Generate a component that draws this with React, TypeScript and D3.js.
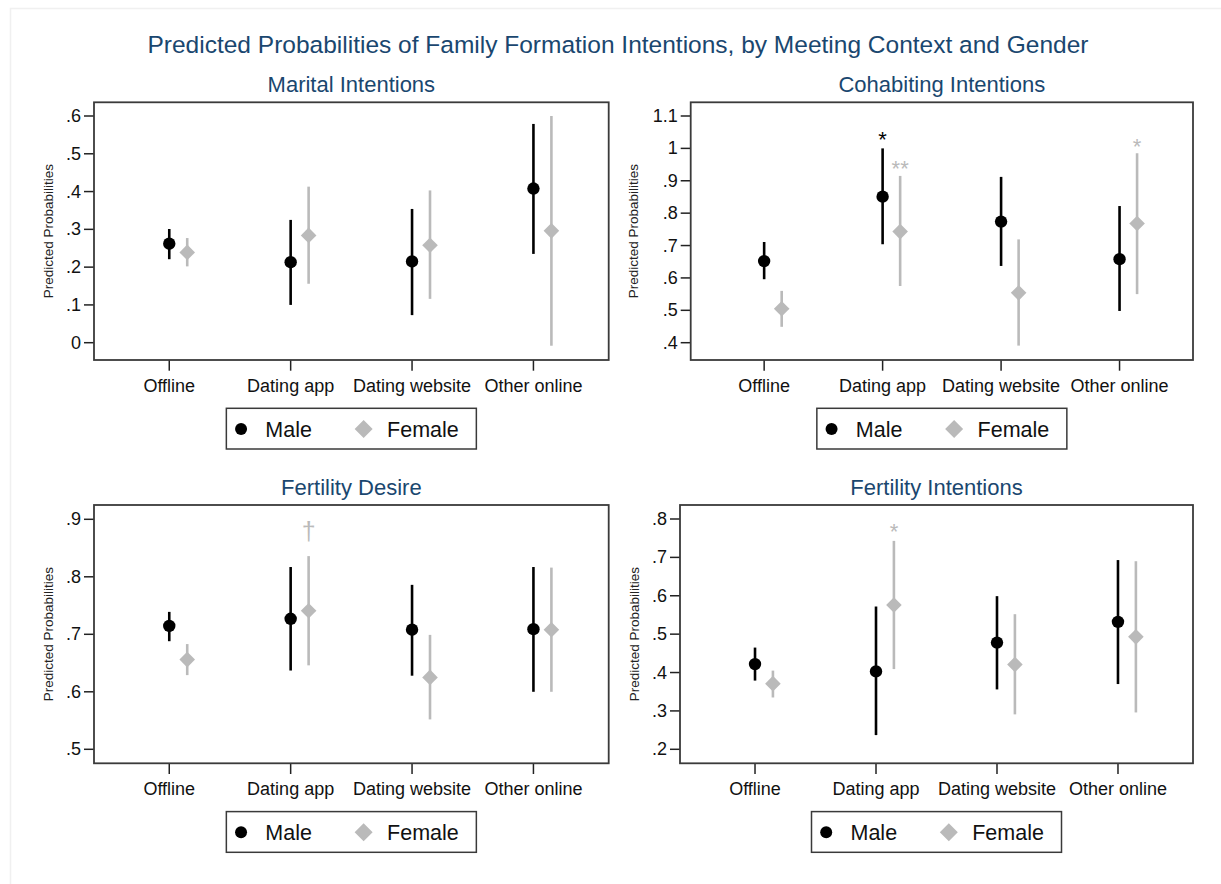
import * as d3 from 'd3'

const categories = ['Offline', 'Dating app', 'Dating website', 'Other online']
const groups = ['Male', 'Female']
const mainTitle = 'Predicted Probabilities of Family Formation Intentions, by Meeting Context and Gender'
const yTitle = 'Predicted Probabilities'

// Marital intentions
const maritalMale = [0.262, 0.213, 0.215, 0.408]
const maritalMaleCI = [[0.221, 0.301], [0.100, 0.325], [0.073, 0.354], [0.235, 0.579]]
const maritalFemale = [0.239, 0.284, 0.258, 0.296]
const maritalFemaleCI = [[0.202, 0.277], [0.156, 0.413], [0.116, 0.403], [-0.008, 0.600]]
const maritalTicks = [0, 0.1, 0.2, 0.3, 0.4, 0.5, 0.6]

// Cohabiting intentions
const cohabMale = [0.652, 0.851, 0.774, 0.658]
const cohabMaleCI = [[0.596, 0.711], [0.704, 1.000], [0.637, 0.912], [0.498, 0.822]]
const cohabFemale = [0.505, 0.743, 0.554, 0.768]
const cohabFemaleCI = [[0.449, 0.560], [0.575, 0.915], [0.391, 0.719], [0.550, 0.985]]
const cohabTicks = [0.4, 0.5, 0.6, 0.7, 0.8, 0.9, 1.0, 1.1]

// Fertility desire
const desireMale = [0.7145, 0.727, 0.708, 0.709]
const desireMaleCI = [[0.688, 0.739], [0.637, 0.817], [0.628, 0.786], [0.600, 0.817]]
const desireFemale = [0.656, 0.741, 0.625, 0.708]
const desireFemaleCI = [[0.629, 0.683], [0.646, 0.836], [0.552, 0.699], [0.600, 0.816]]
const desireTicks = [0.5, 0.6, 0.7, 0.8, 0.9]

// Fertility intentions
const fertMale = [0.422, 0.403, 0.478, 0.532]
const fertMaleCI = [[0.379, 0.465], [0.237, 0.572], [0.356, 0.599], [0.370, 0.693]]
const fertFemale = [0.371, 0.576, 0.421, 0.493]
const fertFemaleCI = [[0.335, 0.405], [0.409, 0.743], [0.291, 0.552], [0.296, 0.690]]
const fertTicks = [0.2, 0.3, 0.4, 0.5, 0.6, 0.7, 0.8]

// significance marks: [group, category index, label, value where drawn]
const cohabMarks: [number, number, string, number][] = [[0, 1, '*', 1.045], [1, 1, '**', 0.954], [1, 3, '*', 1.022]]
const desireMarks: [number, number, string, number][] = [[1, 1, '†', 0.876]]
const fertMarks: [number, number, string, number][] = [[1, 1, '*', 0.78]]

const FONT = '"Liberation Sans", Arial, Helvetica, sans-serif'
const TITLE_COLOR = '#1a476f'
const FEMALE_COLOR = '#bababa'
const FRAME = '#3a3a3a'

const panels = [
  { title: 'Marital Intentions', male: maritalMale, maleCI: maritalMaleCI, female: maritalFemale, femaleCI: maritalFemaleCI, ticks: maritalTicks, marks: [] as [number, number, string, number][],
    left: 94, right: 608.7, top: 102.3, bottom: 360, padT: 13.7, padB: 17.3, yTitleX: 48.3 },
  { title: 'Cohabiting Intentions', male: cohabMale, maleCI: cohabMaleCI, female: cohabFemale, femaleCI: cohabFemaleCI, ticks: cohabTicks, marks: cohabMarks,
    left: 690.7, right: 1193, top: 102.3, bottom: 360, padT: 13.7, padB: 17.3, yTitleX: 633.3 },
  { title: 'Fertility Desire', male: desireMale, maleCI: desireMaleCI, female: desireFemale, femaleCI: desireFemaleCI, ticks: desireTicks, marks: desireMarks,
    left: 94, right: 608.7, top: 505, bottom: 763.3, padT: 14.3, padB: 14, yTitleX: 48.7 },
  { title: 'Fertility Intentions', male: fertMale, maleCI: fertMaleCI, female: fertFemale, femaleCI: fertFemaleCI, ticks: fertTicks, marks: fertMarks,
    left: 680, right: 1193, top: 505, bottom: 763.3, padT: 14, padB: 14, yTitleX: 634.5 },
]

const fmt = (v: number) => {
  const s = d3.format('.1f')(v)
  if (s === '0.0') return '0'
  if (s.endsWith('.0')) return s.slice(0, -2)
  return s.startsWith('0') ? s.slice(1) : s
}

const Panel = ({ p }: { p: typeof panels[number] }) => {
  const x = d3.scaleLinear().domain([0.38, 4.62]).range([p.left, p.right])
  const y = d3.scaleLinear()
    .domain([p.ticks[0], p.ticks[p.ticks.length - 1]])
    .range([p.bottom - p.padB, p.top + p.padT])
  const off = 0.148
  const cx = (p.left + p.right) / 2
  const diamond = (r: number) => `M0,${-r}L${r},0L0,${r}L${-r},0Z`
  const legLeft = cx - 125

  return (
    <g>
      <text x={cx} y={p.top - 10} textAnchor="middle" fontSize={22} fill={TITLE_COLOR}>{p.title}</text>
      <text transform={`translate(${p.yTitleX},${(p.top + p.bottom) / 2}) rotate(-90)`} textAnchor="middle"
        dominantBaseline="central" fontSize={13.5} fill="#222">{yTitle}</text>
      {p.ticks.map(t => (
        <g key={t}>
          <line x1={p.left - 10} x2={p.left} y1={y(t)} y2={y(t)} stroke="#222" strokeWidth={1.5} />
          <text x={p.left - 13} y={y(t)} textAnchor="end" dominantBaseline="central" fontSize={18} fill="#111">{fmt(t)}</text>
        </g>
      ))}
      {categories.map((c, i) => (
        <g key={c}>
          <line x1={x(i + 1)} x2={x(i + 1)} y1={p.bottom} y2={p.bottom + 10.7} stroke="#222" strokeWidth={1.5} />
          <text x={x(i + 1)} y={p.bottom + 31.7} textAnchor="middle" fontSize={18} fill="#111">{c}</text>
        </g>
      ))}
      {p.maleCI.map((ci, i) => (
        <line key={'m' + i} x1={x(i + 1)} x2={x(i + 1)} y1={y(ci[0])} y2={y(ci[1])} stroke="#000" strokeWidth={2.6} />
      ))}
      {p.femaleCI.map((ci, i) => (
        <line key={'f' + i} x1={x(i + 1 + off)} x2={x(i + 1 + off)} y1={y(ci[0])} y2={y(ci[1])} stroke={FEMALE_COLOR} strokeWidth={2.6} />
      ))}
      {p.male.map((v, i) => (
        <circle key={'mc' + i} cx={x(i + 1)} cy={y(v)} r={6.2} fill="#000" />
      ))}
      {p.female.map((v, i) => (
        <path key={'fd' + i} d={diamond(7.8)} transform={`translate(${x(i + 1 + off)},${y(v)})`} fill={FEMALE_COLOR} />
      ))}
      {p.marks.map(([g, i, label, v], k) => {
        const dagger = label === '†'
        const fs = dagger ? 25 : 22
        return (
          <text key={'s' + k} x={x(i + 1 + (g === 1 ? off : 0))} y={y(v) + (dagger ? 0.28 * fs : 0.58 * fs)}
            textAnchor="middle" fontSize={fs} fill={g === 0 ? '#000' : FEMALE_COLOR}>{label}</text>
        )
      })}
      <rect x={p.left} y={p.top} width={p.right - p.left} height={p.bottom - p.top} fill="none" stroke={FRAME} strokeWidth={1.8} />
      <rect x={legLeft} y={p.bottom + 48.3} width={250} height={40.7} fill="#fff" stroke={FRAME} strokeWidth={1.5} />
      <circle cx={legLeft + 14.7} cy={p.bottom + 69} r={6} fill="#000" />
      <text x={legLeft + 39} y={p.bottom + 76.7} fontSize={21.5} fill="#111">{groups[0]}</text>
      <path d={diamond(9)} transform={`translate(${legLeft + 137.3},${p.bottom + 69})`} fill={FEMALE_COLOR} />
      <text x={legLeft + 160.7} y={p.bottom + 76.7} fontSize={21.5} fill="#111">{groups[1]}</text>
    </g>
  )
}

export default function App() {
  return (
    <svg width={1221} height={884} style={{ position: 'absolute', left: 0, top: 0, background: '#fff' }} fontFamily={FONT}>
      <rect x={0} y={0} width={1221} height={884} fill="#fff" />
      <path d="M10.5,884V8.5H1221" fill="none" stroke="#f0f0f0" strokeWidth={1.5} />
      <text x={618} y={53} textAnchor="middle" fontSize={24.5} fill={TITLE_COLOR}>{mainTitle}</text>
      {panels.map(p => <Panel key={p.title} p={p} />)}
    </svg>
  )
}
